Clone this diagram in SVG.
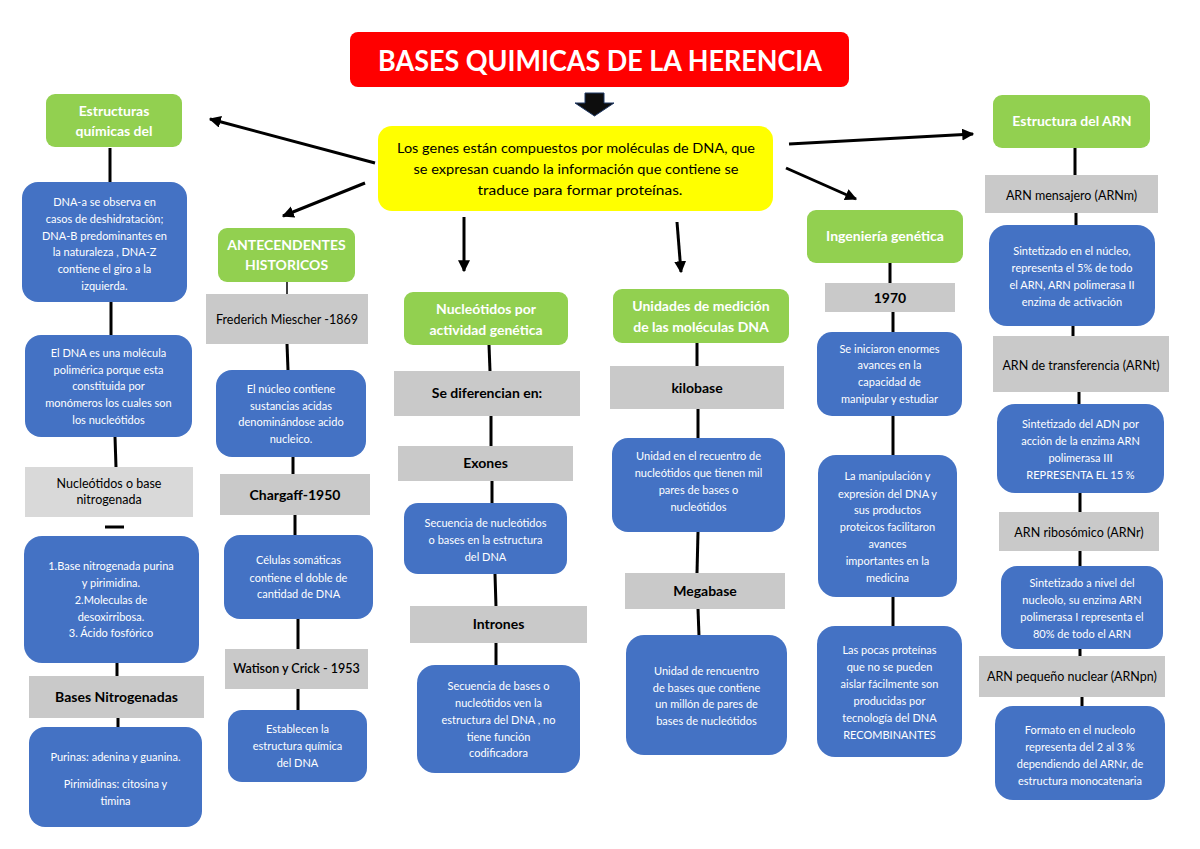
<svg xmlns="http://www.w3.org/2000/svg" width="1200" height="849" viewBox="0 0 1200 849">
<defs>
<marker id="ah" viewBox="0 0 10 10" refX="9" refY="5" markerWidth="4" markerHeight="4" orient="auto" markerUnits="strokeWidth">
<path d="M0,0 L10,5 L0,10 z" fill="#000"/>
</marker>
<style>
.g{fill:#92d050}
.b{fill:#4472c4}
.l{fill:#d9d9d9}
.d{fill:#c9c9c9}
text{font-family:Lato,"Liberation Sans",Arial,sans-serif;text-anchor:middle}
.gt{fill:#fff;font-weight:bold;font-size:14px}
.bt{fill:#fff;font-size:11px}
.kt{fill:#000;font-size:12.5px}
.kb{fill:#000;font-size:14px;font-weight:bold}
.c{stroke:#000;stroke-width:3;fill:none}
.a{stroke:#000;stroke-width:3;fill:none;marker-end:url(#ah)}
</style>
</defs>
<rect width="1200" height="849" fill="#fff"/>

<g id="connectors">
<line class="a" x1="375" y1="163" x2="210" y2="119"/>
<line class="a" x1="365" y1="183" x2="283" y2="216"/>
<line class="a" x1="464" y1="217" x2="464" y2="271"/>
<line class="a" x1="677" y1="222" x2="681" y2="272"/>
<line class="a" x1="789" y1="144" x2="973" y2="134"/>
<line class="a" x1="786" y1="168" x2="856" y2="199"/>
<line class="c" x1="110" y1="148" x2="110" y2="183"/>
<line class="c" x1="111" y1="302" x2="111" y2="336"/>
<line class="c" x1="115" y1="437" x2="116" y2="467"/>
<line class="c" x1="105" y1="527" x2="124" y2="527"/>
<line class="c" x1="117" y1="663" x2="117" y2="676"/>
<line class="c" x1="118" y1="718" x2="118" y2="727"/>
<line stroke="#000" stroke-width="1.5" x1="287" y1="282" x2="287" y2="294"/>
<line class="c" x1="287" y1="344" x2="288" y2="370"/>
<line class="c" x1="293" y1="457" x2="293" y2="475"/>
<line class="c" x1="295" y1="515" x2="295" y2="535"/>
<line class="c" x1="298" y1="619" x2="298" y2="649"/>
<line class="c" x1="298" y1="689" x2="298" y2="710"/>
<line class="c" x1="489" y1="345" x2="490" y2="371"/>
<line class="c" x1="491" y1="416" x2="491" y2="446"/>
<line class="c" x1="492" y1="481" x2="492" y2="503"/>
<line class="c" x1="495" y1="574" x2="496" y2="607"/>
<line class="c" x1="496" y1="643" x2="496" y2="666"/>
<line class="c" x1="697" y1="343" x2="697" y2="366"/>
<line class="c" x1="698" y1="409" x2="698" y2="438"/>
<line class="c" x1="698" y1="532" x2="697" y2="573"/>
<line class="c" x1="698" y1="609" x2="699" y2="636"/>
<line class="c" x1="890" y1="263" x2="890" y2="283"/>
<line class="c" x1="893" y1="312" x2="893" y2="332"/>
<line class="c" x1="893" y1="416" x2="893" y2="455"/>
<line class="c" x1="893" y1="597" x2="893" y2="626"/>
<line class="c" x1="1075" y1="148" x2="1075" y2="175"/>
<line class="c" x1="1076" y1="213" x2="1076" y2="225"/>
<line class="c" x1="1073" y1="326" x2="1073" y2="336"/>
<line class="c" x1="1079" y1="392" x2="1079" y2="404"/>
<line class="c" x1="1080" y1="493" x2="1080" y2="512"/>
<line class="c" x1="1080" y1="551" x2="1080" y2="566"/>
<line class="c" x1="1080" y1="649" x2="1080" y2="656"/>
<line class="c" x1="1082" y1="697" x2="1082" y2="706"/>
</g>

<g id="title">
<rect x="350" y="32" width="499" height="55" rx="8" fill="#ff0000"/>
<text x="600" y="71" fill="#fff" font-weight="bold" font-size="28" textLength="444" lengthAdjust="spacingAndGlyphs">BASES QUIMICAS DE LA HERENCIA</text>
</g>
<g id="title-arrow">
<polygon points="585,93 604,93 604,103 614,103 594.5,116 575,103 585,103" fill="#0d0d0d" stroke="#1f3864" stroke-width="1"/>
</g>
<g id="genes">
<rect x="378" y="126" width="395" height="85" rx="14" fill="#ffff00"/>
<text x="576" y="153" font-size="13.5" fill="#000" textLength="358" lengthAdjust="spacingAndGlyphs">Los genes están compuestos por moléculas de DNA, que</text>
<text x="576" y="174" font-size="13.5" fill="#000" textLength="325" lengthAdjust="spacingAndGlyphs">se expresan cuando la información que contiene se</text>
<text x="580" y="195" font-size="13.5" fill="#000" textLength="205" lengthAdjust="spacingAndGlyphs">traduce para formar proteínas.</text>
</g>

<g id="estructuras-quimicas">
<rect class="g" x="46" y="94" width="136" height="53" rx="9"/>
<text class="gt" x="114" y="116">Estructuras</text>
<text class="gt" x="114" y="136">químicas del</text>
</g>
<g id="dna-a">
<rect class="b" x="22" y="182" width="165" height="120" rx="16"/>
<text class="bt" x="104.5" y="206">DNA-a se observa en</text>
<text class="bt" x="104.5" y="223">casos de deshidratación;</text>
<text class="bt" x="104.5" y="240">DNA-B predominantes en</text>
<text class="bt" x="104.5" y="256">la naturaleza , DNA-Z</text>
<text class="bt" x="104.5" y="273">contiene el giro a la</text>
<text class="bt" x="104.5" y="290">izquierda.</text>
</g>
<g id="dna-polimerica">
<rect class="b" x="25" y="335" width="167" height="102" rx="16"/>
<text class="bt" x="108.5" y="357">El DNA es una molécula</text>
<text class="bt" x="108.5" y="374">polimérica porque esta</text>
<text class="bt" x="108.5" y="390">constituida por</text>
<text class="bt" x="108.5" y="407">monómeros los cuales son</text>
<text class="bt" x="108.5" y="424">los nucleótidos</text>
</g>
<g id="nucleotidos-base">
<rect class="l" x="25" y="467" width="168" height="50"/>
<text class="kt" x="109" y="488">Nucleótidos o base</text>
<text class="kt" x="109" y="504">nitrogenada</text>
</g>
<g id="componentes">
<rect class="b" x="24" y="536" width="175" height="127" rx="18"/>
<text class="bt" x="111" y="570">1.Base nitrogenada purina</text>
<text class="bt" x="111" y="587">y pirimidina.</text>
<text class="bt" x="111" y="604">2.Moleculas de</text>
<text class="bt" x="111" y="621">desoxirribosa.</text>
<text class="bt" x="111" y="637">3. Ácido fosfórico</text>
</g>
<g id="bases-nitrogenadas">
<rect class="d" x="29" y="676" width="175" height="42"/>
<text class="kb" x="116.5" y="702">Bases Nitrogenadas</text>
</g>
<g id="purinas">
<rect class="b" x="29" y="727" width="173" height="100" rx="16"/>
<text class="bt" x="115.5" y="761">Purinas: adenina y guanina.</text>
<text class="bt" x="115.5" y="788">Pirimidinas: citosina y</text>
<text class="bt" x="115.5" y="805">timina</text>
</g>

<g id="antecedentes">
<rect class="g" x="218" y="228" width="137" height="54" rx="9"/>
<text class="gt" x="286.5" y="250">ANTECENDENTES</text>
<text class="gt" x="286.5" y="270">HISTORICOS</text>
</g>
<g id="miescher">
<rect class="d" x="206" y="294" width="162" height="50"/>
<text class="kt" x="287" y="324">Frederich Miescher -1869</text>
</g>
<g id="nucleo">
<rect class="b" x="216" y="370" width="150" height="87" rx="16"/>
<text class="bt" x="291" y="393">El núcleo contiene</text>
<text class="bt" x="291" y="410">sustancias acidas</text>
<text class="bt" x="291" y="426">denominándose acido</text>
<text class="bt" x="291" y="443">nucleico.</text>
</g>
<g id="chargaff">
<rect class="d" x="220" y="474" width="150" height="41"/>
<text class="kb" x="295" y="500">Chargaff-1950</text>
</g>
<g id="celulas">
<rect class="b" x="224" y="535" width="149" height="84" rx="16"/>
<text class="bt" x="298.5" y="564">Células somáticas</text>
<text class="bt" x="298.5" y="582">contiene el doble de</text>
<text class="bt" x="298.5" y="598">cantidad de DNA</text>
</g>
<g id="watson">
<rect class="d" x="225" y="649" width="143" height="40"/>
<text class="kt" x="296.5" y="673" font-weight="600">Watison y Crick - 1953</text>
</g>
<g id="establecen">
<rect class="b" x="228" y="710" width="139" height="72" rx="14"/>
<text class="bt" x="297.5" y="733">Establecen la</text>
<text class="bt" x="297.5" y="750">estructura química</text>
<text class="bt" x="297.5" y="767">del DNA</text>
</g>

<g id="nucleotidos-actividad">
<rect class="g" x="404" y="292" width="164" height="53" rx="9"/>
<text class="gt" x="486" y="314">Nucleótidos por</text>
<text class="gt" x="486" y="335">actividad genética</text>
</g>
<g id="se-diferencian">
<rect class="d" x="394" y="371" width="186" height="45"/>
<text class="kb" x="487" y="398">Se diferencian en:</text>
</g>
<g id="exones">
<rect class="d" x="398" y="446" width="175" height="35"/>
<text class="kb" x="485.5" y="468">Exones</text>
</g>
<g id="exones-desc">
<rect class="b" x="404" y="503" width="163" height="71" rx="14"/>
<text class="bt" x="485.5" y="527">Secuencia de nucleótidos</text>
<text class="bt" x="485.5" y="544">o bases en la estructura</text>
<text class="bt" x="485.5" y="561">del DNA</text>
</g>
<g id="intrones">
<rect class="d" x="410" y="606" width="177" height="37"/>
<text class="kb" x="498.5" y="629">Intrones</text>
</g>
<g id="intrones-desc">
<rect class="b" x="417" y="665" width="163" height="108" rx="18"/>
<text class="bt" x="498.5" y="690">Secuencia de bases o</text>
<text class="bt" x="498.5" y="707">nucleótidos ven la</text>
<text class="bt" x="498.5" y="724">estructura del DNA , no</text>
<text class="bt" x="498.5" y="741">tiene función</text>
<text class="bt" x="498.5" y="757">codificadora</text>
</g>

<g id="unidades">
<rect class="g" x="613" y="289" width="176" height="54" rx="9"/>
<text class="gt" x="701" y="311">Unidades de medición</text>
<text class="gt" x="701" y="332">de las moléculas DNA</text>
</g>
<g id="kilobase">
<rect class="d" x="610" y="366" width="174" height="43"/>
<text class="kb" x="697" y="393">kilobase</text>
</g>
<g id="kilobase-desc">
<rect class="b" x="612" y="438" width="173" height="94" rx="16"/>
<text class="bt" x="698.5" y="460">Unidad en el recuentro de</text>
<text class="bt" x="698.5" y="477">nucleótidos que tienen mil</text>
<text class="bt" x="698.5" y="494">pares de bases o</text>
<text class="bt" x="698.5" y="511">nucleótidos</text>
</g>
<g id="megabase">
<rect class="d" x="625" y="573" width="160" height="36"/>
<text class="kb" x="705" y="596">Megabase</text>
</g>
<g id="megabase-desc">
<rect class="b" x="626" y="635" width="161" height="120" rx="18"/>
<text class="bt" x="706.5" y="675">Unidad de rencuentro</text>
<text class="bt" x="706.5" y="692">de bases que contiene</text>
<text class="bt" x="706.5" y="708">un millón de pares de</text>
<text class="bt" x="706.5" y="725">bases de nucleótidos</text>
</g>

<g id="ingenieria">
<rect class="g" x="807" y="210" width="156" height="53" rx="9"/>
<text class="gt" x="885" y="241">Ingeniería genética</text>
</g>
<g id="y1970">
<rect class="d" x="825" y="283" width="130" height="29"/>
<text class="kb" x="890" y="303">1970</text>
</g>
<g id="iniciaron">
<rect class="b" x="817" y="332" width="145" height="84" rx="15"/>
<text class="bt" x="889.5" y="353">Se iniciaron enormes</text>
<text class="bt" x="889.5" y="369">avances en la</text>
<text class="bt" x="889.5" y="386">capacidad de</text>
<text class="bt" x="889.5" y="403">manipular y estudiar</text>
</g>
<g id="manipulacion">
<rect class="b" x="818" y="455" width="139" height="142" rx="18"/>
<text class="bt" x="887.5" y="480">La manipulación y</text>
<text class="bt" x="887.5" y="498">expresión del DNA y</text>
<text class="bt" x="887.5" y="514">sus productos</text>
<text class="bt" x="887.5" y="531">proteicos facilitaron</text>
<text class="bt" x="887.5" y="548">avances</text>
<text class="bt" x="887.5" y="565">importantes en la</text>
<text class="bt" x="887.5" y="582">medicina</text>
</g>
<g id="pocas-proteinas">
<rect class="b" x="817" y="626" width="145" height="131" rx="18"/>
<text class="bt" x="889.5" y="654">Las pocas proteínas</text>
<text class="bt" x="889.5" y="671">que no se pueden</text>
<text class="bt" x="889.5" y="688">aislar fácilmente son</text>
<text class="bt" x="889.5" y="705">producidas por</text>
<text class="bt" x="889.5" y="722">tecnología del DNA</text>
<text class="bt" x="889.5" y="739">RECOMBINANTES</text>
</g>

<g id="estructura-arn">
<rect class="g" x="993" y="95" width="157" height="53" rx="9"/>
<text class="gt" x="1072" y="126">Estructura del ARN</text>
</g>
<g id="arnm">
<rect class="d" x="985" y="175" width="173" height="38"/>
<text class="kt" x="1071.5" y="200">ARN mensajero (ARNm)</text>
</g>
<g id="arnm-desc">
<rect class="b" x="989" y="225" width="166" height="101" rx="18"/>
<text class="bt" x="1072" y="255">Sintetizado en el núcleo,</text>
<text class="bt" x="1072" y="272">representa el 5% de todo</text>
<text class="bt" x="1072" y="289">el ARN, ARN  polimerasa II</text>
<text class="bt" x="1072" y="306">enzima de activación</text>
</g>
<g id="arnt">
<rect class="d" x="993" y="336" width="176" height="56"/>
<text class="kt" x="1081" y="370">ARN de transferencia (ARNt)</text>
</g>
<g id="arnt-desc">
<rect class="b" x="997" y="404" width="167" height="89" rx="18"/>
<text class="bt" x="1080.5" y="428">Sintetizado del ADN por</text>
<text class="bt" x="1080.5" y="445">acción de la enzima ARN</text>
<text class="bt" x="1080.5" y="462">polimerasa III</text>
<text class="bt" x="1080.5" y="479">REPRESENTA EL 15 %</text>
</g>
<g id="arnr">
<rect class="d" x="999" y="512" width="160" height="39"/>
<text class="kt" x="1079" y="537">ARN ribosómico (ARNr)</text>
</g>
<g id="arnr-desc">
<rect class="b" x="1001" y="566" width="162" height="83" rx="16"/>
<text class="bt" x="1082" y="587">Sintetizado a nivel del</text>
<text class="bt" x="1082" y="604">nucleolo, su enzima ARN</text>
<text class="bt" x="1082" y="621">polimerasa I representa el</text>
<text class="bt" x="1082" y="638">80% de todo el ARN</text>
</g>
<g id="arnpn">
<rect class="d" x="979" y="656" width="186" height="41"/>
<text class="kt" x="1072" y="681">ARN pequeño nuclear (ARNpn)</text>
</g>
<g id="arnpn-desc">
<rect class="b" x="995" y="706" width="170" height="94" rx="18"/>
<text class="bt" x="1080" y="734">Formato en el nucleolo</text>
<text class="bt" x="1080" y="751">representa del 2 al 3 %</text>
<text class="bt" x="1080" y="768">dependiendo del ARNr, de</text>
<text class="bt" x="1080" y="785">estructura monocatenaria</text>
</g>
</svg>
